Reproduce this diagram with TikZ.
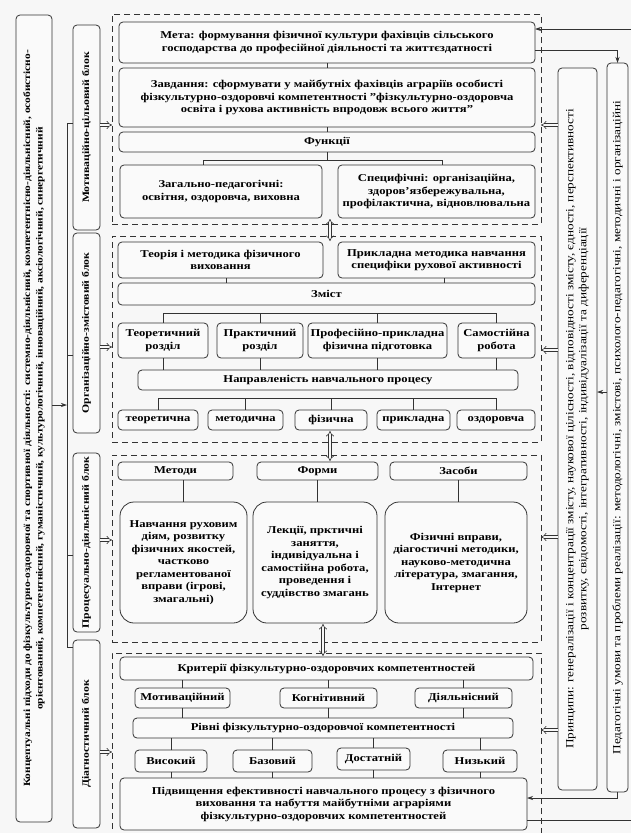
\documentclass[tikz,border=0pt]{standalone}
\usepackage{fontspec}
\setmainfont{Liberation Serif}[FakeStretch=1.2]
\usetikzlibrary{arrows.meta,calc}
\begin{document}
\begin{tikzpicture}[x=1pt,y=-1pt,
  every node/.style={inner sep=1pt, outer sep=0pt},
  box/.style={draw=black!80, line width=0.8pt, rounded corners=4pt, align=center,
     font=\bfseries\fontsize{10.5}{12.5}\selectfont, fill=gray!4},
  bigbox/.style={box, rounded corners=14pt},
  lbl/.style={box, rotate=90, minimum height=27pt, font=\bfseries\fontsize{9.8}{12}\selectfont},
  side/.style={box, rotate=90, font=\fontsize{11}{13}\selectfont},
  dblock/.style={draw=black!80, line width=0.8pt, dash pattern=on 6pt off 4pt, minimum width=429pt},
  con/.style={draw=black!80, line width=0.7pt},
  himp/.style={draw=black!80, double=gray!6, double distance=2.2pt, line width=0.6pt, -{Implies}},
  himp2/.style={draw=black!80, double=gray!6, double distance=2.2pt, line width=0.6pt, {Implies}-{Implies}},
  arr/.style={con, -{Stealth[length=6pt,width=4pt]}},
]
\fill[gray!6] (0,0) rectangle (631,833);
\useasboundingbox (0,0) rectangle (631,833);

% dashed blocks
\node[dblock, minimum height=210pt] (b1) at (326.5,119) {};
\node[dblock, minimum height=206pt] (b2) at (326.5,339) {};
\node[dblock, minimum height=187pt] (b3) at (326.5,548.5) {};
\node[dblock, minimum height=192pt] (b4) at (326.5,749) {};

% block 1
\node[box, minimum width=416pt, minimum height=41pt] (meta) at (327,42.5)
 {Мета: формування фізичної культури фахівців сільського\\господарства до професійної діяльності та життєздатності};
\node[box, minimum width=416pt, minimum height=59pt] (zavd) at (327,97.5)
 {Завдання: сформувати у майбутніх фахівців аграріїв особисті\\фізкультурно-оздоровчі компетентності "фізкультурно-оздоровча\\освіта і рухова активність впродовж всього життя"};
\node[box, minimum width=416pt, minimum height=20pt] (funk) at (327,142) {Функції};
\node[box, minimum width=202pt, minimum height=53pt] (zag) at (221,191.5)
 {Загально-педагогічні:\\освітня, оздоровча, виховна};
\node[box, minimum width=197pt, minimum height=53pt] (spec) at (436.5,191.5)
 {Специфічні: організаційна,\\здоров’язбережувальна,\\профілактична, відновлювальна};

% block 2
\node[box, minimum width=205pt, minimum height=36pt] (teor) at (220.5,260)
 {Теорія і методика фізичного\\виховання};
\node[box, minimum width=197pt, minimum height=36pt] (prykl) at (436.5,260)
 {Прикладна методика навчання\\специфіки рухової активності};
\node[box, minimum width=417pt, minimum height=22pt] (zmist) at (326.5,294) {Зміст};
\node[box, minimum width=90pt, minimum height=35pt] (tr) at (163,340.5) {Теоретичний\\розділ};
\node[box, minimum width=86pt, minimum height=35pt] (pr) at (260,340.5) {Практичний\\розділ};
\node[box, minimum width=139pt, minimum height=35pt] (ppf) at (377.5,340.5) {Професійно-прикладна\\фізична підготовка};
\node[box, minimum width=77pt, minimum height=35pt] (sr) at (496.5,340.5) {Самостійна\\робота};
\node[box, minimum width=380pt, minimum height=20pt] (napr) at (328,380) {Направленість навчального процесу};
\node[box, minimum width=80pt, minimum height=20pt] (teo) at (158,420) {теоретична};
\node[box, minimum width=75pt, minimum height=20pt] (met) at (245.5,420) {методична};
\node[box, minimum width=72pt, minimum height=20pt] (fiz) at (331,420) {фізична};
\node[box, minimum width=73pt, minimum height=20pt] (pryk) at (413.5,420) {прикладна};
\node[box, minimum width=78pt, minimum height=20pt] (ozd) at (496,420) {оздоровча};

% block 3
\node[box, minimum width=115pt, minimum height=18pt] (metody) at (175.5,471) {Методи};
\node[box, minimum width=121pt, minimum height=18pt] (formy) at (317.5,471) {Форми};
\node[box, minimum width=137pt, minimum height=18pt] (zasoby) at (458.5,471) {Засоби};
\node[bigbox, minimum width=127pt, minimum height=121pt] (big1) at (183.5,562.5)
 {Навчання руховим\\діям, розвитку\\фізичних якостей,\\частково\\регламентованої\\вправи (ігрові,\\змагальні)};
\node[bigbox, minimum width=124pt, minimum height=121pt] (big2) at (315,562.5)
 {Лекції, прктичні\\заняття,\\індивідуальна і\\самостійна робота,\\проведення і\\суддівство змагань};
\node[bigbox, minimum width=142pt, minimum height=121pt] (big3) at (456,562.5)
 {Фізичні вправи,\\діагостичні методики,\\науково-методична\\література, змагання,\\Інтернет};

% block 4
\node[box, minimum width=413pt, minimum height=23pt] (krit) at (326.5,668.5) {Критерії фізкультурно-оздоровчих компетентностей};
\node[box, minimum width=95pt, minimum height=20pt] (motyv) at (182.5,698) {Мотиваційний};
\node[box, minimum width=97pt, minimum height=20pt] (kogn) at (328.5,698) {Когнітивний};
\node[box, minimum width=97pt, minimum height=20pt] (diyal) at (463.5,698) {Діяльнісний};
\node[box, minimum width=380pt, minimum height=20pt] (rivni) at (323,728) {Рівні фізкультурно-оздоровчої компетентності};
\node[box, minimum width=72pt, minimum height=22pt] (vys) at (171,761) {Високий};
\node[box, minimum width=79pt, minimum height=22pt] (baz) at (272.5,761) {Базовий};
\node[box, minimum width=73pt, minimum height=22pt] (dost) at (373.5,759) {Достатній};
\node[box, minimum width=74pt, minimum height=22pt] (nyz) at (480,761) {Низький};
\node[box, minimum width=407pt, minimum height=52pt] (final) at (323.5,804)
 {Підвищення ефективності навчального процесу з фізичного\\виховання та набуття майбутніми аграріями\\фізкультурно-оздоровчих компетентностей};

% left column
\node[side, font=\bfseries\fontsize{9.5}{12.5}\selectfont, minimum width=807pt, minimum height=36pt] (konc) at (34,418.5)
 {Концептуальні підходи до фізкультурно-оздоровчої та спортивної діяльності: системно-діяльнісний, компетентнісно-діяльнісний, особистісно-\\орієнтований, компетентнісний, гуманістичний, культурологічний, інноваційний, аксіологічний, синергетичний};
\node[lbl, minimum width=205pt] (motb) at (86.5,127.5) {Мотиваційно-цільовий блок};
\node[lbl, minimum width=200pt] (orgb) at (86.5,333) {Організаційно-змістовий блок};
\node[lbl, minimum width=179pt] (procb) at (86.5,542.5) {Процесуально-діяльнісний блок};
\node[lbl, minimum width=188pt] (diagb) at (86.5,734) {Діагностичний блок};

% right column
\node[side, minimum width=722pt, minimum height=39pt] (pryn) at (577.5,429)
 {Принципи: генералізації і концентрації змісту, наукової цілісності, відповідності змісту, єдності, перспективності\\розвитку, свідомості, інтегративності, індивідуалізації та диференціації};
\node[side, minimum width=729pt, minimum height=21pt] (ped) at (617.5,427.5)
 {Педагогічні умови та проблеми реалізації: методологічні, змістові, психолого-педагогічні, методичні і організаційні};

% connectors block 1
\draw[con] (meta) -- (zavd);
\draw[con] (zavd) -- (funk);
\draw[con] (funk.south) -- ++(0,8) -| ([xshift=-18pt]zag.north);
\draw[con] (funk.south) ++(0,8) -| ([xshift=6pt]spec.north);
% block 2
\draw[con] ([xshift=6pt]teor.south) -- ([xshift=6pt]teor.south |- zmist.north);
\draw[con] ([xshift=8pt]prykl.south) -- ([xshift=8pt]prykl.south |- zmist.north);
\foreach \n in {tr,pr,ppf,sr} {
  \draw[con] (zmist.south) ++(0,8) -| (\n.north);
  \draw[con] (\n.south) -- (\n.south |- napr.north);
}
\foreach \n in {teo,met,fiz,pryk,ozd}
  \draw[con] (napr.south) ++(0,8) -| (\n.north);
% block 3
\draw[con] (big1.north |- metody.south) -- (big1.north);
\draw[con] (formy.south) -- (formy.south |- big2.north);
\draw[con] (zasoby.south) -- (zasoby.south |- big3.north);
% block 4
\foreach \n in {motyv,kogn,diyal} {
  \draw[con] (\n.north) -- (\n.north |- krit.south);
  \draw[con] (\n.south) -- (\n.south |- rivni.north);
}
\foreach \n in {vys,baz,dost,nyz} {
  \draw[con] (\n.north) -- (\n.north |- rivni.south);
  \draw[con] (\n.south) -- (\n.south |- final.north);
}

% double arrows between blocks
\coordinate (d1a) at (330,219); \coordinate (d1b) at (330,241);
\coordinate (d2a) at (330,431); \coordinate (d2b) at (330,461);
\coordinate (d3a) at (323,624); \coordinate (d3b) at (323,656);
\draw[himp2] (d1a) -- (d1b);
\draw[himp2] (d2a) -- (d2b);
\draw[himp2] (d3a) -- (d3b);

% left hollow arrows
\draw[himp] (motb.south |- 0,125) -- (b1.west |- 0,125);
\draw[himp] (orgb.south |- 0,347) -- (b2.west |- 0,347);
\draw[himp] (procb.south |- 0,540) -- (b3.west |- 0,540);
\draw[himp] (diagb.south |- 0,752) -- (b4.west |- 0,752);
% right hollow arrows
\draw[himp] (pryn.north |- 0,125) -- (b1.east |- 0,125);
\draw[himp] (pryn.north |- 0,350) -- (b2.east |- 0,350);
\draw[himp] (pryn.north |- 0,537) -- (b3.east |- 0,537);
\draw[himp] (pryn.north |- 0,730) -- (b4.east |- 0,730);

% left bracket
\coordinate (brt) at (67,123);
\coordinate (brb) at (67,647);
\coordinate (brk) at (67,405);
\draw[con] (brt) -- (brb);
\draw[con] (brt) -- (brt -| motb.north);
\draw[con] (brt |- 0,355) -- (orgb.north |- 0,355);
\draw[con] (brt |- 0,555) -- (procb.north |- 0,555);
\draw[con] (brb) -- (brb -| diagb.north);
\draw[arr] (konc.south |- brk) -- (brk);

% right side
\coordinate (etop) at (631,29);
\coordinate (ebot) at (631,820);
\draw[arr] (etop) -- (etop -| meta.east);
\draw[arr] (meta.east |- 0,50) -| (ped.east);
\draw[arr] (ped.west) |- (final.east |- 0,798);
\draw[con] (final.east |- ebot) -- (ebot);
\draw[arr] (ped.north |- 0,392) -- (pryn.south |- 0,392);
\end{tikzpicture}
\end{document}
